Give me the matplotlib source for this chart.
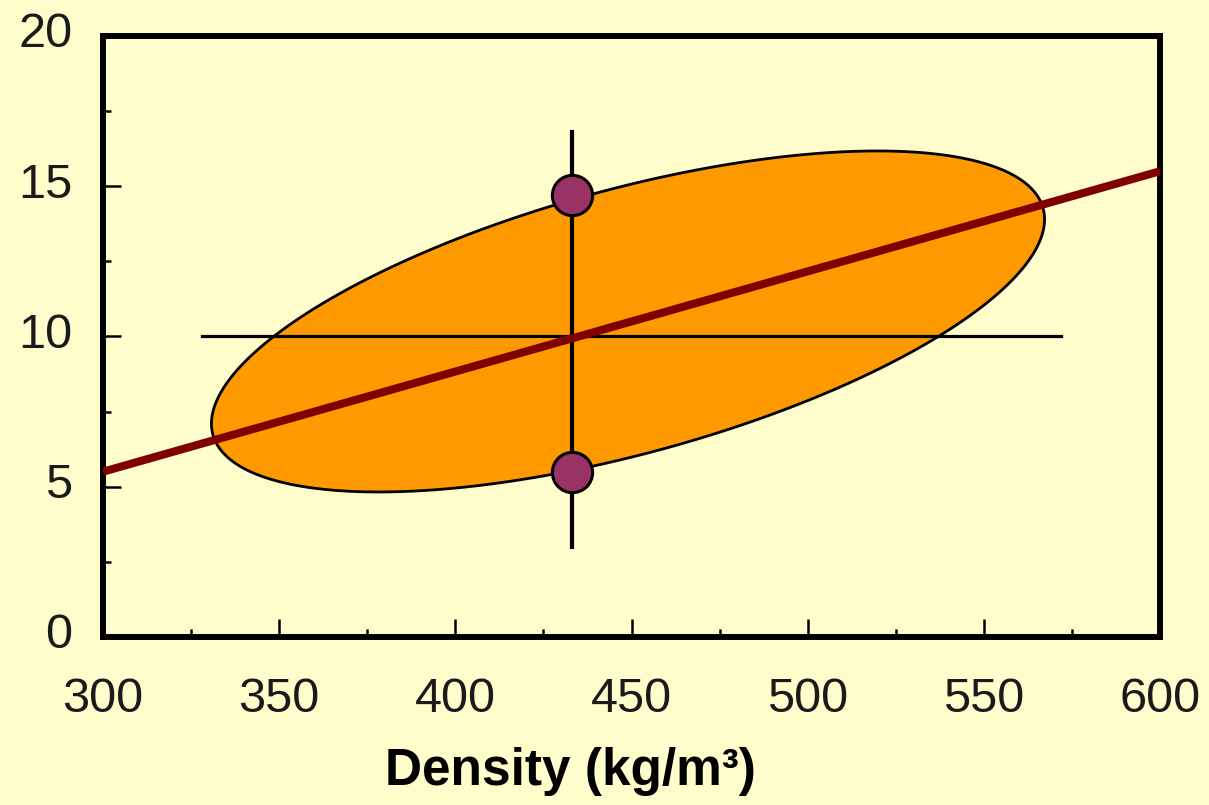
import numpy as np
import matplotlib
matplotlib.use("Agg")
import matplotlib.pyplot as plt
import matplotlib.transforms as mtransforms
from matplotlib.ticker import MultipleLocator

# ---- data ----
x_ticks = [300, 350, 400, 450, 500, 550, 600]
y_ticks = [0, 5, 10, 15, 20]
x_label = "Density (kg/m³)"

# regression line endpoints
line_x = [300, 600]
line_y = [5.5, 15.5]

# mean cross
hline_x = [328, 572]
hline_y = [10, 10]
vline_x = [433, 433]
vline_y = [3.0, 16.8]

# points on ellipse
pts_x = [433, 433]
pts_y = [14.7, 5.5]

# ellipse (parametric in data units)
ell_cx, ell_cy = 449, 10.5
ell_ax, ell_bx = 117.8, -10.0
ell_ay, ell_by = 3.77, 4.24

BG = "#FFFDCC"
fig = plt.figure(figsize=(12.09, 8.05), dpi=100, facecolor=BG)
ax = fig.add_axes([0.0852, 0.2087, 0.8743, 0.7466])
ax.set_facecolor(BG)

t = np.linspace(0, 2 * np.pi, 400)
ex = ell_cx + ell_ax * np.cos(t) + ell_bx * np.sin(t)
ey = ell_cy + ell_ay * np.cos(t) + ell_by * np.sin(t)
ax.fill(ex, ey, facecolor="#FF9900", edgecolor="black", linewidth=2, zorder=2)

ax.plot(hline_x, hline_y, color="black", linewidth=2.3, zorder=3)
ax.plot(vline_x, vline_y, color="black", linewidth=3, zorder=3)
ax.plot(line_x, line_y, color="#800000", linewidth=5.8, zorder=4, solid_capstyle="butt")
ax.plot(pts_x, pts_y, "o", markersize=29, markerfacecolor="#993366",
        markeredgecolor="black", markeredgewidth=2.2, zorder=5)

ax.set_xlim(300, 600)
ax.set_ylim(0, 20)
ax.set_xticks(x_ticks)
ax.set_yticks(y_ticks)
ax.xaxis.set_minor_locator(MultipleLocator(25))
ax.yaxis.set_minor_locator(MultipleLocator(2.5))

for s in ax.spines.values():
    s.set_linewidth(4.3)
    s.set_color("black")
    s.set_capstyle("projecting")

font = "Liberation Sans"
ax.tick_params(axis="both", which="major", direction="in", length=13, width=1.8,
               labelsize=35, colors="black")
ax.tick_params(axis="both", which="minor", direction="in", length=6, width=1.8)
ax.tick_params(axis="x", which="major", pad=29)
ax.tick_params(axis="y", which="major", pad=22)
for lab in ax.get_xticklabels() + ax.get_yticklabels():
    lab.set_fontfamily(font)
    lab.set_color("#1a1a1a")

# y tick labels sit slightly above their ticks in the reference
shift = mtransforms.ScaledTranslation(0, 6 / 100, fig.dpi_scale_trans)
for lab in ax.get_yticklabels():
    lab.set_transform(lab.get_transform() + shift)

ax.set_xlabel(x_label, fontsize=37, fontweight="bold", fontfamily=font)
ax.xaxis.set_label_coords(0.442, -0.183)

fig.savefig("out.png", dpi=100, facecolor=BG)
